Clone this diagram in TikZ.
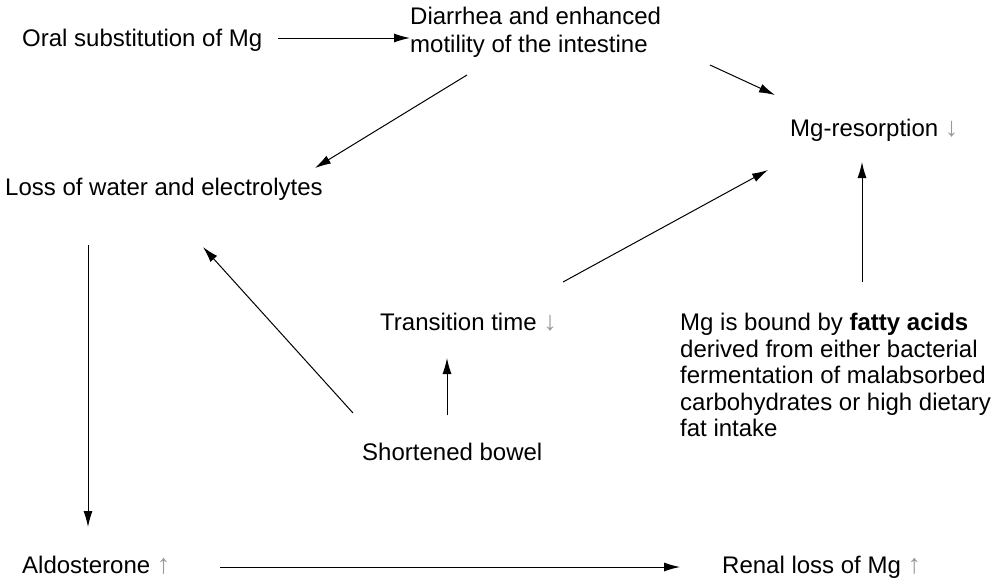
\documentclass[tikz,border=0pt]{standalone}
\usepackage{xcolor}
\usepackage{fontspec}
\setmainfont{Liberation Sans}
\usepackage{tikz}
\usetikzlibrary{arrows.meta,positioning,calc}
\definecolor{updown}{gray}{0.6}
\newcommand{\incr}{{\color{updown}\fontsize{27}{27}\selectfont↑}}
\newcommand{\decr}{{\color{updown}\fontsize{27}{27}\selectfont↓}}

\begin{document}
\begin{tikzpicture}[x=1pt, y=-1pt]
% Define styles for different types of nodes
\tikzstyle{label} = [inner sep=0pt, font=\fontsize{24}{26.5}\selectfont, align=left, text height=17pt, text depth=5pt]
\tikzstyle{para} = [inner sep=0pt, font=\fontsize{24}{26.5}\selectfont, align=left]
\tikzstyle{line} = [draw, line width=1pt, -{Latex[length=16pt,width=9pt]}]

\useasboundingbox (0,0) rectangle (995,584);

% Place nodes
\node [label, anchor=west] (oral) at (22,40) {Oral substitution of Mg};
\node [para, anchor=west, font=\fontsize{24}{28}\selectfont] (diarrhea) at (410,32) {Diarrhea and enhanced\\motility of the intestine};
\node [label, anchor=west] (resorp) at (790,130) {Mg-resorption \decr};
\node [label, anchor=west] (loss) at (5,189) {Loss of water and electrolytes};
\node [label, anchor=west] (transit) at (380,324) {Transition time \decr};
\node [label, anchor=west] (bowel) at (362,454) {Shortened bowel};
\node [para, anchor=north west] (bound) at (680,313) {Mg is bound by \textbf{fatty acids}\\derived from either bacterial\\fermentation of malabsorbed\\carbohydrates or high dietary\\fat intake};
\node [label, anchor=west] (aldo) at (22,567) {Aldosterone \incr};
\node [label, anchor=west] (renal) at (722,567) {Renal loss of Mg \incr};

% Connect nodes with arrows
\path [line] ($(oral.west)+(256,-2)$) -- ($(diarrhea.west)+(0,6)$);
\path [line] ($(diarrhea.west)+(300,33)$) -- ($(resorp.west)+(-15,-35)$);
\path [line] ($(diarrhea.west)+(57,43)$) -- ($(loss.west)+(310,-21)$);
\path [line] ($(loss.west)+(83,56)$) -- ($(aldo.west)+(66,-40)$);
\path [line] ($(aldo.west)+(198,0)$) -- ($(renal.west)+(-42,0)$);
\path [line] ($(bowel.west)+(85,-39)$) -- ($(transit.west)+(67,34)$);
\path [line] ($(bowel.west)+(-9,-41)$) -- ($(loss.west)+(198,58)$);
\path [line] ($(transit.west)+(183,-42)$) -- ($(resorp.west)+(-22,40)$);
\path [line] ($(bound.north west)+(182,-31)$) -- ($(resorp.west)+(72,32)$);

\end{tikzpicture}
\end{document}
